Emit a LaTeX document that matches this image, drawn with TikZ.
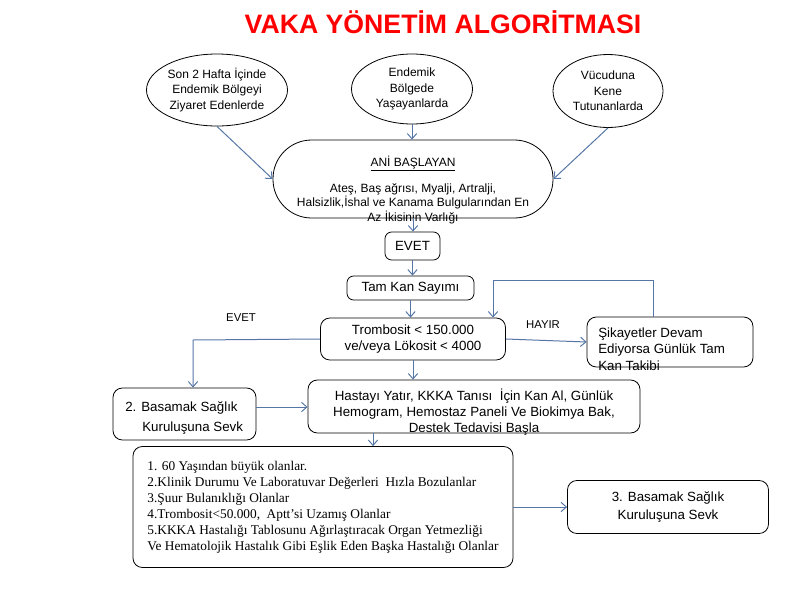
\documentclass[tikz,border=0pt]{standalone}
\usepackage{fontspec}
\setmainfont{Liberation Sans}
\newfontfamily\listfont{Liberation Serif}
\usetikzlibrary{positioning, arrows.meta, shapes.geometric}
\definecolor{arrowblue}{HTML}{5677A6}
\definecolor{titlered}{HTML}{FF0000}

\begin{document}
\begin{tikzpicture}[x=0.75pt, y=-0.75pt,
  oval/.style={draw, ellipse, line width=0.6pt, inner sep=0pt, align=center,
               font=\fontsize{9}{11.5}\selectfont},
  box/.style={draw, rounded corners=7pt, line width=0.6pt, inner sep=0pt, align=center,
              font=\fontsize{10}{12}\selectfont},
  txt/.style={inner sep=0pt, font=\fontsize{10}{12}\selectfont},
  lbl/.style={font=\fontsize{8.5}{10}\selectfont},
  arr/.style={-{Straight Barb[length=4pt, width=7pt]}, line width=0.75pt, arrowblue}]
  \useasboundingbox (0,0) rectangle (800,600);
  \node[anchor=base, font=\fontsize{20}{24}\selectfont\bfseries, text=titlered] (title) at (443,33) {VAKA YÖNETİM ALGORİTMASI};
  % risk groups
  \node[oval, minimum width=105.75pt, minimum height=54pt] (e1) at (217,90) {Son 2 Hafta İçinde\\Endemik Bölgeyi\\Ziyaret Edenlerde};
  \node[oval, minimum width=90.75pt, minimum height=52.5pt] (e2) at (412,89) {Endemik\\Bölgede\\Yaşayanlarda};
  \node[oval, minimum width=82.5pt, minimum height=54.75pt] (e3) at (608,91) {Vücuduna\\Kene\\Tutunanlarda};
  % symptoms
  \node[draw, line width=0.6pt, rounded corners=29pt, minimum width=210pt, minimum height=58.5pt] (ani) at (413,179) {};
  \node[txt, align=center, font=\fontsize{9}{11}\selectfont] (anitxt) at (413,190)
    {\underline{ANİ BAŞLAYAN}\\[8.5pt]Ateş, Baş ağrısı, Myalji, Artralji,\\Halsizlik,İshal ve Kanama Bulgularından En\\Az İkisinin Varlığı};
  \node[box, rounded corners=5pt, minimum width=41.25pt, minimum height=21pt] (evet) at (412.5,246) {EVET};
  \node[box, rounded corners=5pt, minimum width=95.25pt, minimum height=18pt] (tam) at (410.5,288) {Tam Kan Sayımı};
  \node[box, minimum width=138.75pt, minimum height=31.5pt] (tromb) at (413,339)
    {Trombosit < 150.000\\ve/veya Lökosit < 4000};
  \node[box, minimum width=124.5pt, minimum height=37.5pt] (sikayet) at (670,342) {};
  \node[txt, anchor=west, align=left, font=\fontsize{10}{12.4}\selectfont] (sikayettxt) at (598,349)
    {Şikayetler Devam\\Ediyorsa Günlük Tam\\Kan Takibi};
  \node[box, minimum width=107.25pt, minimum height=39pt] (bas2) at (184.5,414) {};
  \node[txt, anchor=west, align=left, font=\fontsize{10}{15}\selectfont] (bas2txt) at (125,418)
    {2. Basamak Sağlık\\\hspace*{12.75pt}Kuruluşuna Sevk};
  \node[box, minimum width=249pt, minimum height=39.75pt] (hasta) at (474,406.5) {};
  \node[txt, align=center] (hastatxt) at (474,412)
    {Hastayı Yatır, KKKA Tanısı\ \ İçin Kan Al, Günlük\\Hemogram, Hemostaz Paneli Ve Biokimya Bak,\\Destek Tedavisi Başla};
  \node[box, align=left, font=\fontsize{10}{12}\listfont, minimum width=285pt, minimum height=90.75pt] (liste) at (323,507)
    {1. 60 Yaşından büyük olanlar.\\
     2.Klinik Durumu Ve Laboratuvar Değerleri\ \ Hızla Bozulanlar\\
     3.Şuur Bulanıklığı Olanlar\\
     4.Trombosit<50.000,\ \ Aptt’si Uzamış Olanlar\\
     5.KKKA Hastalığı Tablosunu Ağırlaştıracak Organ Yetmezliği\\
     Ve Hematolojik Hastalık Gibi Eşlik Eden Başka Hastalığı Olanlar};
  \node[box, font=\fontsize{10}{13.5}\selectfont, minimum width=150.75pt, minimum height=39.75pt] (bas3) at (668,507)
    {3. Basamak Sağlık\\Kuruluşuna Sevk};
  % branch labels
  \node[lbl] (evetlbl) at (241,318) {EVET};
  \node[lbl] (hayirlbl) at (543,325) {HAYIR};
  % helper points
  \coordinate (evetc) at (193,340);
  \coordinate (backR) at (653,280);
  \coordinate (backL) at (493,280);
  \coordinate (h2l) at (373,0);
  \coordinate (b2h) at (0,407);
  % arrows
  \draw[arr] (e1.south) -- (ani.west);
  \draw[arr] (e2.south) -- (e2.south |- ani.north);
  \draw[arr] (e3.south) -- (ani.east);
  \draw[arr] (ani.south) -- (ani.south |- evet.north);
  \draw[arr] (evet.south) -- (evet.south |- tam.north);
  \draw[arr] (tam.south) -- (tam.south |- tromb.north);
  \draw[arr] (tromb.east) -- (sikayet.west);
  \draw[arr] (backR |- sikayet.north) -- (backR) -- (backL) -- (backL |- tromb.north);
  \draw[arr] (tromb.west) -- (evetc) -- (evetc |- bas2.north);
  \draw[arr] (tromb.south) -- (tromb.south |- hasta.north);
  \draw[arr] (bas2.east |- b2h) -- (hasta.west |- b2h);
  \draw[arr] (hasta.south -| h2l) -- (liste.north -| h2l);
  \draw[arr] (liste.east) -- (bas3.west);
\end{tikzpicture}
\end{document}
